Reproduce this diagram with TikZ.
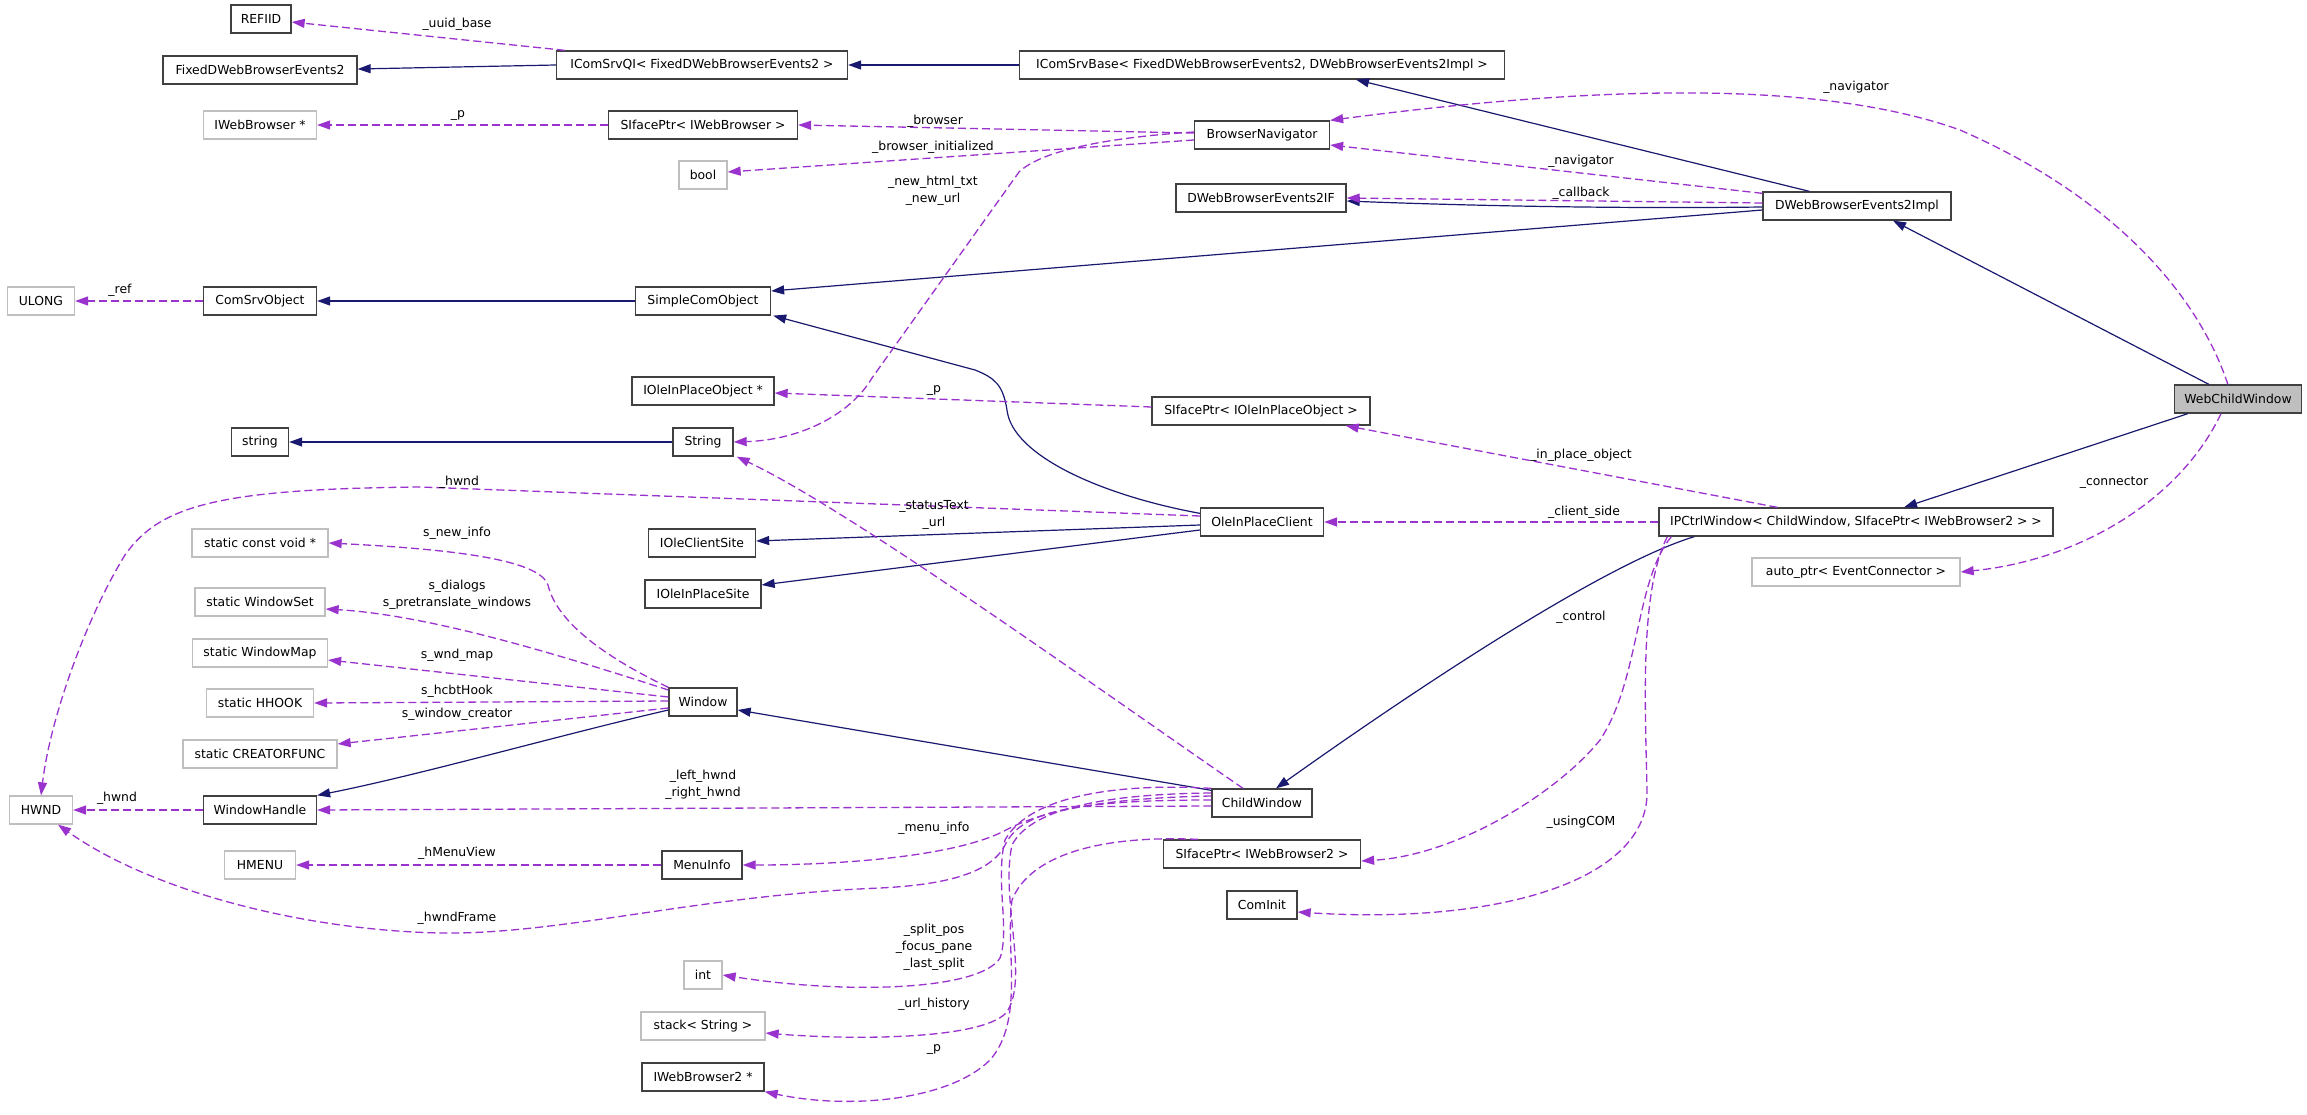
\documentclass[tikz,border=0pt]{standalone}
\usepackage{fontspec}
\setmainfont{DejaVu Sans}
\usetikzlibrary{arrows.meta,calc}
\definecolor{navy}{HTML}{191970}
\definecolor{orch}{HTML}{9A32CD}
\definecolor{gb}{HTML}{BFBFBF}
\definecolor{db}{HTML}{404040}
\tikzset{
 base/.style={rectangle,minimum height=28pt,inner sep=0pt,font=\fontsize{12.4}{15}\selectfont,line width=1.3pt},
 cls/.style={base,draw=db},
 ext/.style={base,draw=gb},
 inh/.style={draw=navy,line width=1.2pt,-{Triangle[length=13pt,width=9pt]}},
 mem/.style={draw=orch,line width=1.3pt,dash pattern=on 8pt off 4pt,-{Triangle[length=13pt,width=9pt]}},
 lbl/.style={font=\fontsize{12.4}{17}\selectfont,align=center,inner sep=0pt},
}
\begin{document}
\begin{tikzpicture}[x=1pt,y=-1pt]
\useasboundingbox (0,0) rectangle (2307,1115);
\fill[white] (0,0) rectangle (2307,1115);
% nodes
\node[cls,minimum width=60pt] (refiid) at (261,19) {REFIID};
\node[cls,minimum width=194pt] (fixed) at (260,70) {FixedDWebBrowserEvents2};
\node[cls,minimum width=291pt] (qi) at (702,65) {IComSrvQI< FixedDWebBrowserEvents2 >};
\node[cls,minimum width=485pt] (srvbase) at (1262,65) {IComSrvBase< FixedDWebBrowserEvents2, DWebBrowserEvents2Impl >};
\node[ext,minimum width=113pt] (iwb) at (260,125) {IWebBrowser *};
\node[cls,minimum width=189pt] (sifwb) at (703,125) {SIfacePtr< IWebBrowser >};
\node[cls,minimum width=135pt] (bnav) at (1262,135) {BrowserNavigator};
\node[ext,minimum width=48pt] (boolv) at (703,175) {bool};
\node[cls,minimum width=170pt] (dif) at (1261,198) {DWebBrowserEvents2IF};
\node[cls,minimum width=188pt] (impl) at (1857,206) {DWebBrowserEvents2Impl};
\node[ext,minimum width=67pt] (ulong) at (41,301) {ULONG};
\node[cls,minimum width=113pt] (cso) at (260,301) {ComSrvObject};
\node[cls,minimum width=135pt] (sco) at (703,301) {SimpleComObject};
\node[cls,minimum width=142pt] (ioipo) at (703,391) {IOleInPlaceObject *};
\node[cls,minimum width=218pt] (sifoipo) at (1261,411) {SIfacePtr< IOleInPlaceObject >};
\node[cls,minimum width=57pt] (strl) at (260,442) {string};
\node[cls,minimum width=60pt] (stru) at (703,442) {String};
\node[cls,minimum width=123pt] (oipc) at (1262,522) {OleInPlaceClient};
\node[cls,minimum width=127pt,fill=gb] (wcw) at (2238,399) {WebChildWindow};
\node[cls,minimum width=394pt] (ipc) at (1856,522) {IPCtrlWindow< ChildWindow, SIfacePtr< IWebBrowser2 > >};
\node[ext,minimum width=208pt] (autop) at (1856,572) {auto\_ptr< EventConnector >};
\node[ext,minimum width=136pt] (scv) at (260,543) {static const void *};
\node[cls,minimum width=107pt] (iocs) at (702,543) {IOleClientSite};
\node[ext,minimum width=130pt] (sws) at (260,602) {static WindowSet};
\node[cls,minimum width=116pt] (iops) at (703,594) {IOleInPlaceSite};
\node[ext,minimum width=135pt] (swm) at (260,653) {static WindowMap};
\node[ext,minimum width=107pt] (shh) at (260,703) {static HHOOK};
\node[cls,minimum width=68pt] (win) at (703,702) {Window};
\node[ext,minimum width=154pt] (scf) at (260,754) {static CREATORFUNC};
\node[ext,minimum width=63pt] (hwnd) at (41,810) {HWND};
\node[cls,minimum width=113pt] (wh) at (260,810) {WindowHandle};
\node[ext,minimum width=71pt] (hmenu) at (260,865) {HMENU};
\node[cls,minimum width=80pt] (menu) at (702,865) {MenuInfo};
\node[cls,minimum width=100pt] (cw) at (1262,803) {ChildWindow};
\node[cls,minimum width=197pt] (sifwb2) at (1262,854) {SIfacePtr< IWebBrowser2 >};
\node[cls,minimum width=70pt] (cominit) at (1262,905) {ComInit};
\node[ext,minimum width=38pt] (intv) at (703,975) {int};
\node[ext,minimum width=124pt] (stack) at (703,1026) {stack< String >};
\node[cls,minimum width=122pt] (iwb2) at (703,1077) {IWebBrowser2 *};
% inheritance
\draw[inh] (qi.west) -- ($(fixed.east)+(0,-1)$);
\draw[inh] (srvbase.west) -- (qi.east);
\draw[inh] ($(impl.north west)+(47,0)$) -- ($(srvbase.south)+(94,0)$);
\draw[inh] ($(impl.west)+(0,1)$) .. controls (1600,209) and (1450,205) .. ($(dif.east)+(0,3)$);
\draw[inh] ($(impl.west)+(0,4)$) -- ($(sco.east)+(0,-10)$);
\draw[inh] ($(oipc.north west)+(0,6)$) .. controls (1100,495) and (1012,455) .. (1007,410) .. controls (1003,385) and (995,378) .. (975,370) -- ($(sco.south east)+(2,0)$);
\draw[inh] ($(oipc.west)+(0,3)$) -- ($(iocs.east)+(0,-2)$);
\draw[inh] ($(oipc.west)+(0,8)$) -- ($(iops.east)+(0,-9)$);
\draw[inh] (stru.west) -- (strl.east);
\draw[inh] (sco.west) -- (cso.east);
\draw[inh] ($(win.west)+(0,8)$) .. controls (560,735) and (420,775) .. (wh.north east);
\draw[inh] ($(cw.north west)+(0,2)$) -- ($(win.east)+(0,8)$);
\draw[inh] ($(ipc.south west)+(36,0)$) .. controls (1600,565) and (1400,700) .. ($(cw.north)+(14,0)$);
\draw[inh] ($(wcw.north west)+(35,0)$) -- ($(impl.south)+(36,0)$);
\draw[inh] ($(wcw.south west)+(14,0)$) -- ($(ipc.north)+(48,0)$);
% members
\draw[mem] ($(qi.north west)+(9,0)$) -- ($(refiid.east)+(0,3)$);
\draw[mem] (sifwb.west) -- (iwb.east);
\draw[mem] ($(bnav.west)+(0,-2)$) -- (sifwb.east);
\draw[mem] ($(bnav.west)+(0,5)$) -- ($(boolv.east)+(0,-3)$);
\draw[mem] ($(bnav.west)+(0,-3)$) .. controls (1100,138) and (1040,152) .. (1019,172) -- (872,378) .. controls (850,415) and (800,440) .. (stru.east);
\draw[mem] ($(impl.north west)+(0,2)$) -- ($(bnav.east)+(0,10)$);
\draw[mem] ($(wcw.north west)+(54,0)$) .. controls (2200,300) and (2120,200) .. (1960,130) .. controls (1820,80) and (1600,85) .. (bnav.north east);
\draw[mem] ($(impl.west)+(0,-3)$) -- (dif.east);
\draw[mem] (cso.west) -- (ulong.east);
\draw[mem] ($(sifoipo.west)+(0,-4)$) -- ($(ioipo.east)+(0,2)$);
\draw[mem] ($(ipc.north west)+(119,0)$) -- ($(sifoipo.south east)+(-25,0)$);
\draw[mem] (ipc.west) -- (oipc.east);
\draw[mem] ($(wcw.south)+(-17,0)$) .. controls (2180,500) and (2080,560) .. (autop.east);
\draw[mem] ($(oipc.west)+(0,-6)$) -- (420,487) .. controls (220,489) and (160,505) .. (125,555) .. controls (85,620) and (50,720) .. (hwnd.north);
\draw[mem] ($(cw.north)+(-19,0)$) .. controls (1100,690) and (850,510) .. ($(stru.south east)+(3,0)$);
\draw[mem] (win.north west) .. controls (590,650) and (555,615) .. (548,585) .. controls (540,562) and (470,550) .. (scv.east);
\draw[mem] ($(win.west)+(0,-12)$) .. controls (560,655) and (430,615) .. ($(sws.east)+(0,7)$);
\draw[mem] ($(win.west)+(0,-5)$) -- ($(swm.east)+(0,7)$);
\draw[mem] ($(win.west)+(0,-1)$) -- (shh.east);
\draw[mem] ($(win.west)+(0,6)$) -- ($(scf.east)+(0,-10)$);
\draw[mem] (wh.west) -- (hwnd.east);
\draw[mem] ($(cw.west)+(0,3)$) -- (wh.east);
\draw[mem] (menu.west) -- (hmenu.east);
\draw[mem] ($(cw.west)+(0,-7)$) .. controls (1100,798) and (1040,812) .. (1006,830) .. controls (960,855) and (850,865) .. (menu.east);
\draw[mem] ($(cw.west)+(0,-3)$) .. controls (1060,800) and (1020,815) .. (1005,845) .. controls (990,875) and (940,885) .. (880,888) .. controls (700,895) and (560,935) .. (440,933) .. controls (300,930) and (150,890) .. ($(hwnd.south)+(17,0)$);
\draw[mem] (cw.north west) .. controls (1120,783) and (1030,795) .. (1005,840) .. controls (995,880) and (1010,930) .. (1000,958) .. controls (980,990) and (850,995) .. (intv.east);
\draw[mem] ($(cw.west)+(0,-10)$) .. controls (1100,794) and (1030,810) .. (1012,845) .. controls (1000,900) and (1030,980) .. (1006,1013) .. controls (980,1040) and (850,1040) .. ($(stack.east)+(0,7)$);
\draw[mem] ($(sifwb2.north west)+(35,0)$) .. controls (1100,835) and (1030,855) .. (1012,900) .. controls (1005,950) and (1025,1020) .. (990,1060) .. controls (950,1100) and (850,1110) .. (iwb2.south east);
\draw[mem] ($(ipc.south west)+(13,0)$) .. controls (1635,580) and (1640,680) .. (1600,740) .. controls (1560,790) and (1460,855) .. ($(sifwb2.east)+(0,7)$);
\draw[mem] ($(ipc.south west)+(9,0)$) .. controls (1640,590) and (1645,700) .. (1647,790) .. controls (1650,880) and (1500,925) .. ($(cominit.east)+(0,7)$);
% labels
\node[lbl] (l1) at (457,24) {\_uuid\_base};
\node[lbl] (l2) at (458,115) {\_p};
\node[lbl] (l3) at (935,121) {\_browser};
\node[lbl] (l4) at (933,147) {\_browser\_initialized};
\node[lbl] (l5) at (933,191) {\_new\_html\_txt\\\_new\_url};
\node[lbl] (l6) at (1856,87) {\_navigator};
\node[lbl] (l7) at (1581,161) {\_navigator};
\node[lbl] (l8) at (1581,193) {\_callback};
\node[lbl] (l9) at (120,290) {\_ref};
\node[lbl] (l10) at (934,390) {\_p};
\node[lbl] (l11) at (1581,455) {\_in\_place\_object};
\node[lbl] (l12) at (459,482) {\_hwnd};
\node[lbl] (l13) at (934,515) {\_statusText\\\_url};
\node[lbl] (l14) at (1584,512) {\_client\_side};
\node[lbl] (l15) at (2114,483) {\_connector};
\node[lbl] (l16) at (457,533) {s\_new\_info};
\node[lbl] (l17) at (457,595) {s\_dialogs\\s\_pretranslate\_windows};
\node[lbl] (l18) at (1581,617) {\_control};
\node[lbl] (l19) at (457,655) {s\_wnd\_map};
\node[lbl] (l20) at (457,691) {s\_hcbtHook};
\node[lbl] (l21) at (457,714) {s\_window\_creator};
\node[lbl] (l22) at (703,785) {\_left\_hwnd\\\_right\_hwnd};
\node[lbl] (l23) at (117,798) {\_hwnd};
\node[lbl] (l24) at (1581,822) {\_usingCOM};
\node[lbl] (l25) at (934,828) {\_menu\_info};
\node[lbl] (l26) at (457,853) {\_hMenuView};
\node[lbl] (l27) at (457,918) {\_hwndFrame};
\node[lbl] (l28) at (934,947) {\_split\_pos\\\_focus\_pane\\\_last\_split};
\node[lbl] (l29) at (934,1004) {\_url\_history};
\node[lbl] (l30) at (934,1049) {\_p};
\end{tikzpicture}
\end{document}
